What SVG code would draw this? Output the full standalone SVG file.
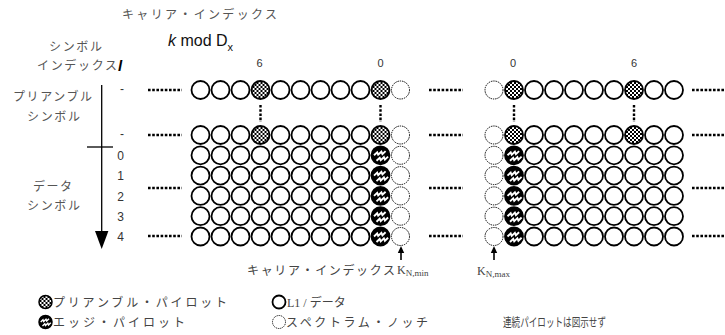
<svg xmlns="http://www.w3.org/2000/svg" xmlns:xlink="http://www.w3.org/1999/xlink" width="725" height="335" viewBox="0 0 725 335">
<style>
.jp{font-family:"Noto Sans CJK JP","Liberation Sans",sans-serif;font-size:12px;fill:#555}
.js{font-family:"Liberation Serif","Noto Sans CJK JP",serif;font-size:12px;fill:#444}
.num{font-family:"Liberation Sans",Arial,sans-serif;font-size:12px;fill:#333}
.dot{stroke:#000;stroke-width:2.4;stroke-dasharray:2.6 1.6;fill:none}
.ax{stroke:#000;stroke-width:1.3;fill:none}
</style>
<defs>
<pattern id="chk" width="4" height="4" patternUnits="userSpaceOnUse">
<rect width="4" height="4" fill="#fff"/>
<rect width="2" height="2" fill="#000"/>
<rect x="2" y="2" width="2" height="2" fill="#000"/>
</pattern>
<circle id="N" r="9" fill="#fff" stroke="#000" stroke-width="1.8"/>
<circle id="D" r="9" fill="#fff" stroke="#000" stroke-width="1" stroke-dasharray="1.4 0.9"/>
<g id="P"><circle r="9" fill="url(#chk)" stroke="#000" stroke-width="1.8"/></g>
<g id="E"><circle r="9" fill="#000" stroke="#000" stroke-width="1.8"/>
<path d="M-6.5,0 l3.2,-3 l1,2.4 l3.2,-3 l1,2.4 l3.2,-3" fill="none" stroke="#fff" stroke-width="1.9"/>
<path d="M-4,5.5 l3.2,-3 l1,2.4 l3.2,-3 l1,2.4 l3.2,-3" fill="none" stroke="#fff" stroke-width="1.9"/></g>
<g id="Ps"><circle r="6.5" fill="url(#chk)" stroke="#000" stroke-width="1.5"/></g>
<g id="Es"><circle r="6.5" fill="#000" stroke="#000" stroke-width="1.5"/>
<path d="M-4.8,0 l2.3,-2.2 l0.7,1.7 l2.3,-2.2 l0.7,1.7 l2.3,-2.2" fill="none" stroke="#fff" stroke-width="1.4"/>
<path d="M-3,4 l2.3,-2.2 l0.7,1.7 l2.3,-2.2 l0.7,1.7 l2.3,-2.2" fill="none" stroke="#fff" stroke-width="1.4"/></g>
<circle id="Ns" r="6.5" fill="#fff" stroke="#000" stroke-width="1.8"/>
<circle id="Ds" r="6.5" fill="#fff" stroke="#000" stroke-width="0.9" stroke-dasharray="1.2 0.8"/>
</defs>
<rect width="725" height="335" fill="#fff"/>

<g id="labels-top">
<text class="jp" x="122" y="19" textLength="155" lengthAdjust="spacing">キャリア・インデックス</text>
<text x="168" y="46" font-family="Liberation Sans,Arial,sans-serif" font-size="16" fill="#111"><tspan font-style="italic">k</tspan> mod D<tspan font-size="11" dy="5">x</tspan></text>
<text class="jp" x="49" y="51" textLength="53" lengthAdjust="spacing">シンボル</text>
<text class="jp" x="37" y="70" textLength="80" lengthAdjust="spacing">インデックス</text>
<text x="118" y="71" font-family="Liberation Sans,Arial,sans-serif" font-size="15" font-style="italic" font-weight="bold" fill="#000">l</text>
<text class="jp" x="13" y="101" textLength="79" lengthAdjust="spacing">プリアンブル</text>
<text class="jp" x="27" y="121" textLength="53" lengthAdjust="spacing">シンボル</text>
<text class="jp" x="33" y="191" textLength="39" lengthAdjust="spacing">データ</text>
<text class="jp" x="27" y="210" textLength="53" lengthAdjust="spacing">シンボル</text>
<g class="num" text-anchor="middle">
<text x="259.5" y="67" font-size="11">6</text>
<text x="380.5" y="67" font-size="11">0</text>
<text x="513" y="67" font-size="11">0</text>
<text x="634" y="67" font-size="11">6</text>
<text x="122" y="93">-</text>
<text x="122" y="138">-</text>
<text x="120.5" y="160">0</text>
<text x="120.5" y="180">1</text>
<text x="120.5" y="200.5">2</text>
<text x="120.5" y="220.5">3</text>
<text x="120.5" y="241">4</text>
</g>
</g>

<g id="axis">
<line class="ax" x1="101.7" y1="85" x2="101.7" y2="233"/>
<line class="ax" x1="87" y1="147" x2="113" y2="147"/>
<polygon points="95,231 108.4,231 101.7,249" fill="#000"/>
</g>

<g id="connectors">
<line class="dot" x1="148" y1="90" x2="182" y2="90"/>
<line class="dot" x1="148" y1="135" x2="182" y2="135"/>
<line class="dot" x1="148" y1="188" x2="182" y2="188"/>
<line class="dot" x1="148" y1="236" x2="182" y2="236"/>
<line class="dot" x1="429" y1="90" x2="463" y2="90"/>
<line class="dot" x1="429" y1="135" x2="463" y2="135"/>
<line class="dot" x1="429" y1="188" x2="463" y2="188"/>
<line class="dot" x1="429" y1="236" x2="463" y2="236"/>
<line class="dot" x1="692" y1="90" x2="726" y2="90"/>
<line class="dot" x1="692" y1="135" x2="726" y2="135"/>
<line class="dot" x1="692" y1="188" x2="726" y2="188"/>
<line class="dot" x1="692" y1="236" x2="726" y2="236"/>
<line class="dot" x1="260.5" y1="105" x2="260.5" y2="122"/>
<line class="dot" x1="380.5" y1="105" x2="380.5" y2="122"/>
<line class="dot" x1="514" y1="105" x2="514" y2="122"/>
<line class="dot" x1="634" y1="105" x2="634" y2="122"/>
<line x1="401" y1="260" x2="401" y2="252" stroke="#000" stroke-width="1.6"/>
<polygon points="397.8,253 404.2,253 401,246" fill="#000"/>
<line x1="494" y1="260" x2="494" y2="252" stroke="#000" stroke-width="1.6"/>
<polygon points="490.8,253 497.2,253 494,246" fill="#000"/>
</g>

<g id="block-left">
<g id="L-p1">
<use href="#N" x="200.5" y="90"/><use href="#N" x="220.5" y="90"/><use href="#N" x="240.5" y="90"/><use href="#P" x="260.5" y="90"/><use href="#N" x="280.5" y="90"/><use href="#N" x="300.5" y="90"/><use href="#N" x="320.5" y="90"/><use href="#N" x="340.5" y="90"/><use href="#N" x="360.5" y="90"/><use href="#P" x="380.5" y="90"/><use href="#D" x="400.5" y="90"/>
</g>
<g id="L-p2">
<use href="#N" x="200.5" y="135"/><use href="#N" x="220.5" y="135"/><use href="#N" x="240.5" y="135"/><use href="#P" x="260.5" y="135"/><use href="#N" x="280.5" y="135"/><use href="#N" x="300.5" y="135"/><use href="#N" x="320.5" y="135"/><use href="#N" x="340.5" y="135"/><use href="#N" x="360.5" y="135"/><use href="#P" x="380.5" y="135"/><use href="#D" x="400.5" y="135"/>
</g>
<g id="L-d0" transform="translate(0,155.3)">
<use href="#N" x="200.5"/><use href="#N" x="220.5"/><use href="#N" x="240.5"/><use href="#N" x="260.5"/><use href="#N" x="280.5"/><use href="#N" x="300.5"/><use href="#N" x="320.5"/><use href="#N" x="340.5"/><use href="#N" x="360.5"/><use href="#E" x="380.5"/><use href="#D" x="400.5"/>
</g>
<g id="L-d1" transform="translate(0,175.6)">
<use href="#N" x="200.5"/><use href="#N" x="220.5"/><use href="#N" x="240.5"/><use href="#N" x="260.5"/><use href="#N" x="280.5"/><use href="#N" x="300.5"/><use href="#N" x="320.5"/><use href="#N" x="340.5"/><use href="#N" x="360.5"/><use href="#E" x="380.5"/><use href="#D" x="400.5"/>
</g>
<g id="L-d2" transform="translate(0,195.9)">
<use href="#N" x="200.5"/><use href="#N" x="220.5"/><use href="#N" x="240.5"/><use href="#N" x="260.5"/><use href="#N" x="280.5"/><use href="#N" x="300.5"/><use href="#N" x="320.5"/><use href="#N" x="340.5"/><use href="#N" x="360.5"/><use href="#E" x="380.5"/><use href="#D" x="400.5"/>
</g>
<g id="L-d3" transform="translate(0,216.2)">
<use href="#N" x="200.5"/><use href="#N" x="220.5"/><use href="#N" x="240.5"/><use href="#N" x="260.5"/><use href="#N" x="280.5"/><use href="#N" x="300.5"/><use href="#N" x="320.5"/><use href="#N" x="340.5"/><use href="#N" x="360.5"/><use href="#E" x="380.5"/><use href="#D" x="400.5"/>
</g>
<g id="L-d4" transform="translate(0,236.5)">
<use href="#N" x="200.5"/><use href="#N" x="220.5"/><use href="#N" x="240.5"/><use href="#N" x="260.5"/><use href="#N" x="280.5"/><use href="#N" x="300.5"/><use href="#N" x="320.5"/><use href="#N" x="340.5"/><use href="#N" x="360.5"/><use href="#E" x="380.5"/><use href="#D" x="400.5"/>
</g>
</g>

<g id="block-right">
<g id="R-p1" transform="translate(0,90)">
<use href="#D" x="494"/><use href="#P" x="514"/><use href="#N" x="534"/><use href="#N" x="554"/><use href="#N" x="574"/><use href="#N" x="594"/><use href="#N" x="614"/><use href="#P" x="634"/><use href="#N" x="654"/><use href="#N" x="674"/>
</g>
<g id="R-p2" transform="translate(0,135)">
<use href="#D" x="494"/><use href="#P" x="514"/><use href="#N" x="534"/><use href="#N" x="554"/><use href="#N" x="574"/><use href="#N" x="594"/><use href="#N" x="614"/><use href="#P" x="634"/><use href="#N" x="654"/><use href="#N" x="674"/>
</g>
<g id="R-d0" transform="translate(0,155.3)">
<use href="#D" x="494"/><use href="#E" x="514"/><use href="#N" x="534"/><use href="#N" x="554"/><use href="#N" x="574"/><use href="#N" x="594"/><use href="#N" x="614"/><use href="#N" x="634"/><use href="#N" x="654"/><use href="#N" x="674"/>
</g>
<g id="R-d1" transform="translate(0,175.6)">
<use href="#D" x="494"/><use href="#E" x="514"/><use href="#N" x="534"/><use href="#N" x="554"/><use href="#N" x="574"/><use href="#N" x="594"/><use href="#N" x="614"/><use href="#N" x="634"/><use href="#N" x="654"/><use href="#N" x="674"/>
</g>
<g id="R-d2" transform="translate(0,195.9)">
<use href="#D" x="494"/><use href="#E" x="514"/><use href="#N" x="534"/><use href="#N" x="554"/><use href="#N" x="574"/><use href="#N" x="594"/><use href="#N" x="614"/><use href="#N" x="634"/><use href="#N" x="654"/><use href="#N" x="674"/>
</g>
<g id="R-d3" transform="translate(0,216.2)">
<use href="#D" x="494"/><use href="#E" x="514"/><use href="#N" x="534"/><use href="#N" x="554"/><use href="#N" x="574"/><use href="#N" x="594"/><use href="#N" x="614"/><use href="#N" x="634"/><use href="#N" x="654"/><use href="#N" x="674"/>
</g>
<g id="R-d4" transform="translate(0,236.5)">
<use href="#D" x="494"/><use href="#E" x="514"/><use href="#N" x="534"/><use href="#N" x="554"/><use href="#N" x="574"/><use href="#N" x="594"/><use href="#N" x="614"/><use href="#N" x="634"/><use href="#N" x="654"/><use href="#N" x="674"/>
</g>
</g>

<g id="labels-bottom">
<text class="js" x="247" y="275" textLength="148" lengthAdjust="spacing">キャリア・インデックス</text>
<text class="js" x="397" y="274" font-size="14">K<tspan font-size="9" dy="2">N,min</tspan></text>
<text class="js" x="477" y="275" font-size="14">K<tspan font-size="9" dy="2">N,max</tspan></text>
</g>

<g id="legend">
<use href="#Ps" x="45.5" y="302"/>
<text class="js" x="53" y="307" font-size="13" textLength="174" lengthAdjust="spacing">プリアンブル・パイロット</text>
<use href="#Es" x="45.5" y="322"/>
<text class="js" x="53" y="327" font-size="13" textLength="132" lengthAdjust="spacing">エッジ・パイロット</text>
<use href="#Ns" x="279" y="302"/>
<text class="js" x="287" y="307" font-size="13">L1 / データ</text>
<use href="#Ds" x="279" y="322"/>
<text class="js" x="286" y="327" font-size="13" textLength="142" lengthAdjust="spacing">スペクトラム・ノッチ</text>
<text class="js" x="503" y="327" font-size="11" textLength="103" lengthAdjust="spacingAndGlyphs">連続パイロットは図示せず</text>
</g>
</svg>
